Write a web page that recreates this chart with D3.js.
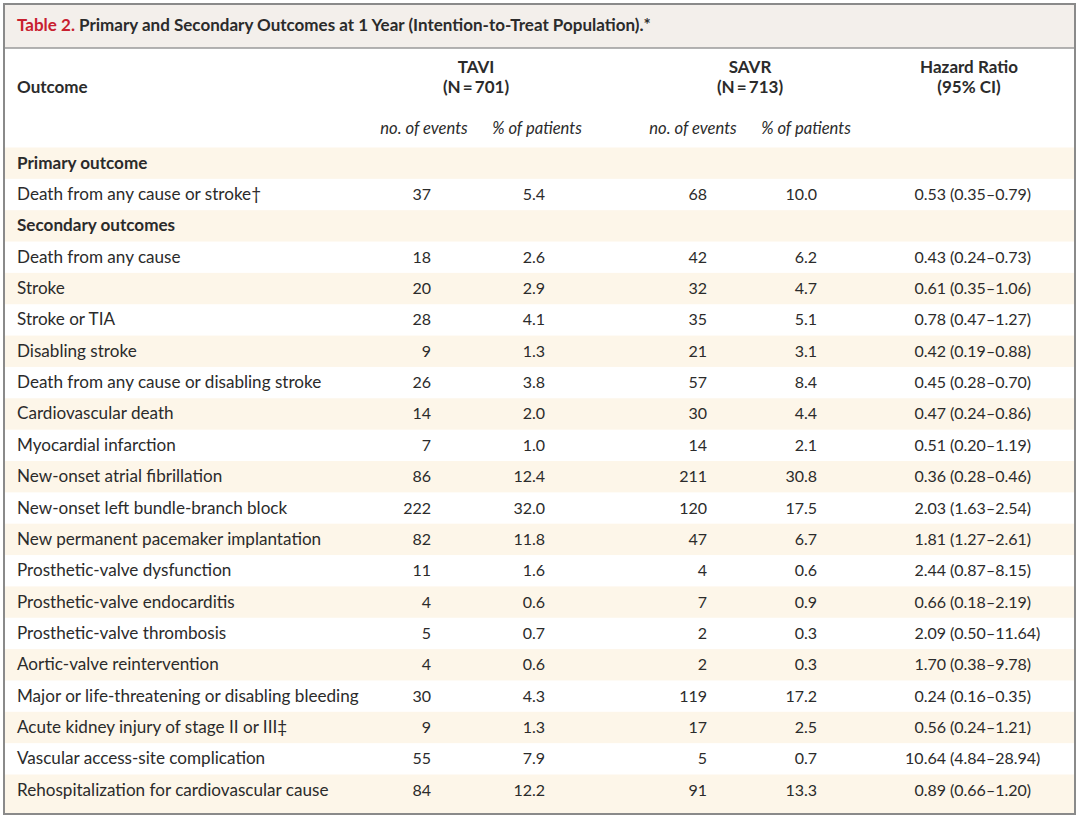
<!DOCTYPE html>
<html><head><meta charset="utf-8">
<script src="https://cdn.jsdelivr.net/npm/d3@7"></script>
<style>
html,body{margin:0;padding:0;background:#fff;}
svg{display:block;font-family:Lato,"Noto Sans",sans-serif;}
</style></head>
<body><svg id="c" width="1080" height="819"></svg>
<script>
const outcomes = ["Primary outcome","Death from any cause or stroke\u2020","Secondary outcomes","Death from any cause","Stroke","Stroke or TIA","Disabling stroke","Death from any cause or disabling stroke","Cardiovascular death","Myocardial infarction","New-onset atrial fibrillation","New-onset left bundle-branch block","New permanent pacemaker implantation","Prosthetic-valve dysfunction","Prosthetic-valve endocarditis","Prosthetic-valve thrombosis","Aortic-valve reintervention","Major or life-threatening or disabling bleeding","Acute kidney injury of stage II or III\u2021","Vascular access-site complication","Rehospitalization for cardiovascular cause"];
const isSection = [true,false,true,false,false,false,false,false,false,false,false,false,false,false,false,false,false,false,false,false,false];
const taviEvents = [null,37,null,18,20,28,9,26,14,7,86,222,82,11,4,5,4,30,9,55,84];
const taviPct = [null,5.4,null,2.6,2.9,4.1,1.3,3.8,2.0,1.0,12.4,32.0,11.8,1.6,0.6,0.7,0.6,4.3,1.3,7.9,12.2];
const savrEvents = [null,68,null,42,32,35,21,57,30,14,211,120,47,4,7,2,2,119,17,5,91];
const savrPct = [null,10.0,null,6.2,4.7,5.1,3.1,8.4,4.4,2.1,30.8,17.5,6.7,0.6,0.9,0.3,0.3,17.2,2.5,0.7,13.3];
const hr = [null,0.53,null,0.43,0.61,0.78,0.42,0.45,0.47,0.51,0.36,2.03,1.81,2.44,0.66,2.09,1.70,0.24,0.56,10.64,0.89];
const ciLow = [null,0.35,null,0.24,0.35,0.47,0.19,0.28,0.24,0.20,0.28,1.63,1.27,0.87,0.18,0.50,0.38,0.16,0.24,4.84,0.66];
const ciHigh = [null,0.79,null,0.73,1.06,1.27,0.88,0.70,0.86,1.19,0.46,2.54,2.61,8.15,2.19,11.64,9.78,0.35,1.21,28.94,1.20];
const groupLabels = ["TAVI","SAVR"];
const groupN = ["(N\u2009=\u2009701)","(N\u2009=\u2009713)"];
const subLabels = ["no. of events","% of patients","no. of events","% of patients"];
const titleLabel = "Table 2.";
const titleText = " Primary and Secondary Outcomes at 1 Year (Intention-to-Treat Population).*";

const svg = d3.select("#c");
const ink = "#2b2b2b";
const bx0 = 4, bx1 = 1075, by0 = 4, by1 = 814;

const idx = d3.range(outcomes.length);
const y = d3.scaleBand().domain(idx).range([147.5, 147.5 + 31.35*outcomes.length]).padding(0);

const colX = d3.scaleOrdinal().domain(["taviE","taviP","savrE","savrP","hr"]).range([431, 545, 707, 817, 946]);
const fmt1 = d3.format(".1f"), fmt2 = d3.format(".2f");

// title band
svg.append("rect").attr("x",bx0).attr("y",by0).attr("width",bx1-bx0).attr("height",44).attr("fill","#f3efeb");
svg.append("line").attr("x1",bx0).attr("x2",bx1).attr("y1",48).attr("y2",48).attr("stroke","#9a9a9a").attr("stroke-width",1.5);

// row shading
svg.append("g").selectAll("rect").data(idx.filter(i=>i%2===0)).join("rect")
  .attr("x",bx0+1).attr("width",bx1-bx0-2)
  .attr("y",i=>y(i))
  .attr("height",i=> i===outcomes.length-1 ? by1 - y(i) : y.bandwidth())
  .attr("fill","#fdf6e9");

// outer border
svg.append("rect").attr("x",bx0).attr("y",by0).attr("width",bx1-bx0).attr("height",by1-by0)
  .attr("fill","none").attr("stroke","#8a8a8a").attr("stroke-width",2);

// title
const t = svg.append("text").attr("x",17).attr("y",31).attr("font-size",17).attr("font-weight",700).attr("fill",ink);
t.append("tspan").attr("fill","#c8202f").text(titleLabel);
t.append("tspan").text(titleText);

// headers
const hdr = svg.append("g").attr("font-weight",700).attr("font-size",17).attr("fill",ink);
hdr.append("text").attr("x",17).attr("y",93).text("Outcome");
const groupCenters = [476, 750];
groupLabels.forEach((g,i)=>{
  hdr.append("text").attr("x",groupCenters[i]).attr("y",73).attr("text-anchor","middle").text(g);
  hdr.append("text").attr("x",groupCenters[i]).attr("y",93).attr("text-anchor","middle").text(groupN[i]);
});
hdr.append("text").attr("x",969).attr("y",73).attr("text-anchor","middle").text("Hazard Ratio");
hdr.append("text").attr("x",969).attr("y",93).attr("text-anchor","middle").text("(95% CI)");

const subCenters = [424, 537, 693, 806];
svg.append("g").selectAll("text").data(subLabels).join("text")
  .attr("x",(d,i)=>subCenters[i]).attr("y",134).attr("text-anchor","middle")
  .attr("font-style","italic").attr("font-size",16.6).attr("fill",ink).text(d=>d);

// rows
const rows = svg.append("g").attr("font-size",16).attr("fill",ink);
const rowG = rows.selectAll("g").data(idx).join("g")
  .attr("transform",i=>`translate(0,${y(i)+y.bandwidth()/2+5.5})`);
rowG.append("text").attr("x",17).attr("font-size",17.1).attr("font-weight",i=>isSection[i]?700:400).text(i=>outcomes[i]);
const dataRows = rowG.filter(i=>!isSection[i]);
dataRows.append("text").attr("x",colX("taviE")).attr("text-anchor","end").text(i=>taviEvents[i]);
dataRows.append("text").attr("x",colX("taviP")).attr("text-anchor","end").text(i=>fmt1(taviPct[i]));
dataRows.append("text").attr("x",colX("savrE")).attr("text-anchor","end").text(i=>savrEvents[i]);
dataRows.append("text").attr("x",colX("savrP")).attr("text-anchor","end").text(i=>fmt1(savrPct[i]));
dataRows.append("text").attr("x",colX("hr")).attr("text-anchor","end").text(i=>fmt2(hr[i]));
dataRows.append("text").attr("x",colX("hr")+4).attr("text-anchor","start").text(i=>`(${fmt2(ciLow[i])}\u2013${fmt2(ciHigh[i])})`);
</script></body></html>
